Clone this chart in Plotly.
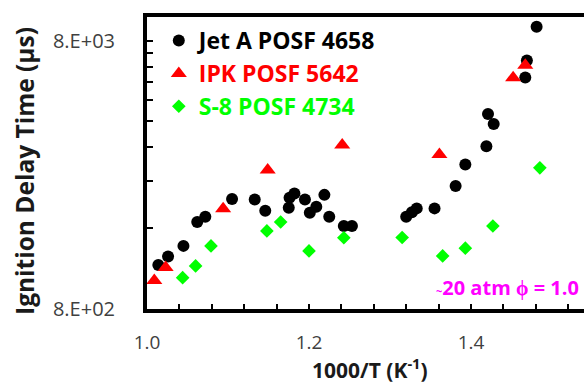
import plotly.graph_objects as go
import math

# ---- data ----
jet_x = [1.014, 1.026, 1.045, 1.062, 1.072, 1.105, 1.133, 1.146, 1.175, 1.176,
         1.182, 1.195, 1.201, 1.209, 1.219, 1.225, 1.243, 1.253, 1.320, 1.327,
         1.333, 1.355, 1.381, 1.393, 1.419, 1.421, 1.428, 1.467, 1.469, 1.481]
jet_y = [1166, 1255, 1375, 1688, 1767, 2055, 2049, 1857, 1909, 2079,
         2157, 2049, 1826, 1922, 2130, 1767, 1631, 1631, 1767, 1834,
         1897, 1897, 2299, 2764, 3233, 4263, 3914, 5832, 6741, 9016]

ipk_x = [1.009, 1.023, 1.094, 1.149, 1.241, 1.361, 1.452, 1.467]
ipk_y = [1022, 1143, 1889, 2637, 3271, 3010, 5816, 6471]

s8_x = [1.044, 1.060, 1.079, 1.148, 1.165, 1.200, 1.243, 1.315, 1.365, 1.393, 1.427, 1.485]
s8_y = [1047, 1158, 1375, 1563, 1688, 1317, 1474, 1477, 1262, 1348, 1631, 2687]

series_names = ["Jet A POSF 4658", "IPK POSF 5642", "S-8 POSF 4734"]
series_colors = ["#000000", "#FF0000", "#00FF00"]

x_tickvals = [1.0, 1.2, 1.4]
x_ticktext = ["1.0", "1.2", "1.4"]
x_minor_tickvals = [round(1.0 + 0.04 * i, 2) for i in range(14)]
y_tickvals = [800, 8000]
y_ticktext = ["8.E+02", "8.E+03"]
y_minor_tickvals = [1600, 2400, 3200, 4000, 4800, 5600, 6400, 7200]

FONT = "Open Sans"

fig = go.Figure()
fig.add_trace(go.Scatter(x=jet_x, y=jet_y, mode="markers", name="<b>" + series_names[0] + "</b>",
                         legendgroup="a",
                         marker=dict(symbol="circle", size=12, color=series_colors[0])))
fig.add_trace(go.Scatter(x=ipk_x, y=ipk_y, mode="markers",
                         name="<b><span style='color:#FF0000'>" + series_names[1] + "</span></b>",
                         legendgroup="b",
                         marker=dict(symbol="triangle-up", size=14, color=series_colors[1])))
fig.add_trace(go.Scatter(x=s8_x, y=s8_y, mode="markers",
                         name="<b><span style='color:#00FF00'>" + series_names[2] + "</span></b>",
                         legendgroup="c",
                         marker=dict(symbol="diamond", size=10.5, color=series_colors[2])))

fig.update_layout(
    width=584, height=383,
    margin=dict(l=147, r=0, t=17, b=74, pad=0),
    paper_bgcolor="white", plot_bgcolor="white",
    font=dict(family=FONT, color="#000000"),
    showlegend=True,
    legend=dict(x=0.027, y=0.993, xanchor="left", yanchor="top",
                font=dict(family=FONT, size=23, color="#000000"),
                bgcolor="rgba(0,0,0,0)", traceorder="grouped", tracegroupgap=0,
                itemsizing="trace"),
    xaxis=dict(range=[1.0, 1.0 + 437 / 810], showgrid=False, zeroline=False,
               showline=True, linecolor="black", linewidth=4, mirror=True,
               tickmode="array", tickvals=x_tickvals, ticktext=x_ticktext,
               ticks="inside", ticklen=5, tickwidth=1.5, tickcolor="black",
               minor=dict(tickmode="array", tickvals=x_minor_tickvals, ticks="inside",
                          ticklen=5, tickwidth=1.5, tickcolor="black", showgrid=False),
               ticklabelstandoff=13,
               tickfont=dict(family=FONT, size=19, color="#404040")),
    yaxis=dict(type="log", range=[math.log10(800), math.log10(9800)], showgrid=False,
               zeroline=False, showline=True, linecolor="black", linewidth=4, mirror=False,
               tickmode="array", tickvals=y_tickvals, ticktext=y_ticktext,
               ticks="inside", ticklen=6, tickwidth=1.5, tickcolor="black",
               minor=dict(tickmode="array", tickvals=y_minor_tickvals, ticks="inside",
                          ticklen=6, tickwidth=1.5, tickcolor="black", showgrid=False),
               ticklabelstandoff=24,
               tickfont=dict(family=FONT, size=20, color="#404040")),
    annotations=[
        dict(text="<b>Ignition Delay Time (μs)</b>", xref="paper", yref="paper",
             x=-0.279, y=0.473, textangle=-90, showarrow=False,
             font=dict(family=FONT, size=24.5, color="#1a1a1a"),
             xanchor="center", yanchor="middle"),
        dict(text="<b>1000/T (K<sup>-1</sup>)</b>", xref="paper", yref="paper",
             x=0.51, y=-0.205, showarrow=False,
             font=dict(family=FONT, size=21, color="#1a1a1a"),
             xanchor="center", yanchor="middle"),
        dict(text="<b><span style='font-size:11px'>~</span>20 atm ϕ = 1.0</b>", xref="paper", yref="paper",
             x=0.993, y=0.072, showarrow=False,
             font=dict(family=FONT, size=20, color="#FF00FF"),
             xanchor="right", yanchor="middle"),
    ],
)

fig.write_html("out.html", config={"displayModeBar": False},
               post_script="document.body.style.margin='0';document.body.style.overflow='hidden';")
